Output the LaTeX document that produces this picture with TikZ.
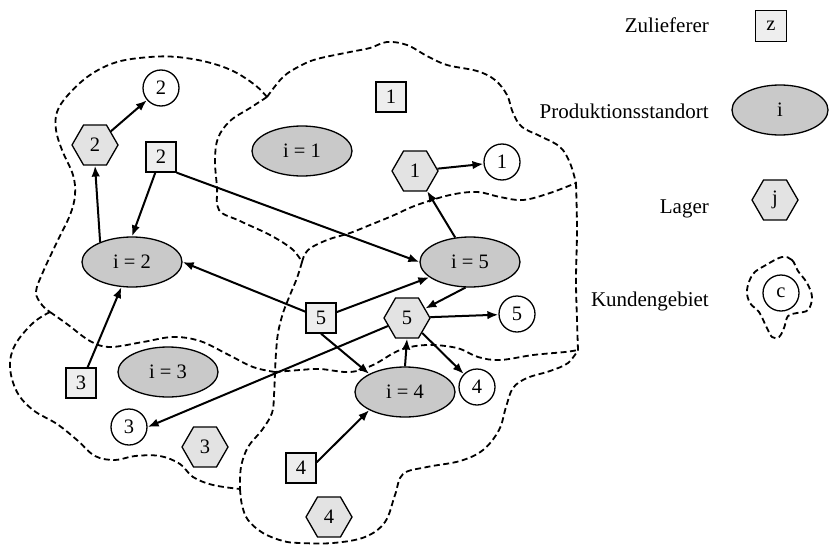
\documentclass[tikz,border=0pt]{standalone}
\usepackage{fontspec}
\setmainfont{Liberation Serif}
\usetikzlibrary{shapes.geometric,arrows.meta}
\begin{document}
\begin{tikzpicture}[x=1pt,y=-1pt,
  font=\fontsize{20.5}{24}\selectfont,
  sup/.style={draw, line width=1.3pt, fill=gray!13, minimum size=30pt, inner sep=0pt},
  plant/.style={ellipse, draw, line width=1.3pt, fill=gray!42, minimum width=100pt, minimum height=50pt, inner sep=0pt},
  store/.style={regular polygon, regular polygon sides=6, draw, line width=1.3pt, fill=gray!22, minimum size=46pt, inner sep=0pt},
  cust/.style={circle, draw, line width=1.3pt, fill=white, minimum size=36pt, inner sep=0pt},
  area/.style={line width=1.8pt, dash pattern=on 6pt off 3.5pt},
  flow/.style={line width=2pt, -{Latex[length=11pt,width=8.5pt]}},
  legendtext/.style={anchor=base east, font=\fontsize{21}{24}\selectfont, inner sep=0pt}
]
\useasboundingbox (0,0) rectangle (829,546);

% customer areas (dashed boundaries)
\draw[area] plot[smooth, tension=0.6] coordinates {(267,97) (255,85) (233,71) (207,62) (177,57) (150,57) (117,62) (90,75) (68,95) (57,112) (56,130) (62,150) (73,175) (75,195) (70,215) (57,242) (43,272) (36,292) (42,305) (50,312)};
\draw[area] plot[smooth, tension=0.6] coordinates {(267,97) (250,108) (230,121) (218,138) (215,160) (217,187) (219,210) (240,221) (270,235) (292,249) (302,262)};
\draw[area] plot[smooth, tension=0.6] coordinates {(267,97) (283,77) (300,66) (317,59) (350,52) (370,48) (387,42) (407,45) (427,56) (447,65) (477,71) (495,80) (507,95) (513,113) (522,127) (540,136) (560,147) (570,163) (576,183)};
\draw[area] plot[smooth, tension=0.6] coordinates {(302,262) (308,250) (327,240) (350,233) (370,225) (392,216) (417,205) (450,195) (477,192) (500,197) (523,200) (550,193) (576,183)};
\draw[area] plot[smooth, tension=0.6] coordinates {(302,262) (297,278) (290,295) (283,313) (278,333) (276,353) (275,372)};
\draw[area] plot[smooth, tension=0.6] coordinates {(50,312) (67,324) (90,341) (110,347) (143,342) (173,337) (200,341) (227,354) (253,367) (275,372)};
\draw[area] plot[smooth, tension=0.6] coordinates {(275,372) (300,370) (320,369) (350,372) (373,365) (400,350) (427,345) (457,348) (478,357) (500,360) (533,355) (565,352) (578,350)};
\draw[area] plot[smooth, tension=0.6] coordinates {(576,183) (577,230) (576,280) (577,320) (578,350)};
\draw[area] plot[smooth, tension=0.6] coordinates {(50,312) (33,323) (15,345) (10,367) (17,392) (33,410) (57,424) (77,440) (95,456) (115,460) (135,456) (160,456) (180,464) (193,477) (213,485) (240,489)};
\draw[area] plot[smooth, tension=0.6] coordinates {(275,372) (274,395) (272,413) (262,430) (248,447) (241,467) (240,489)};
\draw[area] plot[smooth, tension=0.6] coordinates {(240,489) (242,505) (248,520) (263,533) (283,541) (300,543) (333,543) (365,537) (385,522) (395,495) (403,474) (427,467) (460,461) (483,450) (499,430) (506,407) (513,388) (527,378) (550,371) (568,363) (578,350)};

% nodes
\node[cust]  (c2)   at (161,88)  {2};
\node[store] (hex2) at (95,145)  {2};
\node[sup]   (sq2)  at (161,157) {2};
\node[sup]   (sq1)  at (391,97)  {1};
\node[plant] (i1)   at (302,151) {i = 1};
\node[plant] (i2)   at (132,262) {i = 2};
\node[store] (hex1) at (415,171) {1};
\node[cust]  (c1)   at (502,162) {1};
\node[plant] (i5)   at (470,262) {i = 5};
\node[store] (hex5) at (407,318) {5};
\node[cust]  (c5)   at (517,314) {5};
\node[sup]   (sq5)  at (321,318) {5};
\node[cust]  (c4)   at (477,387) {4};
\node[plant] (i4)   at (405,392) {i = 4};
\node[sup]   (sq4)  at (301,468) {4};
\node[store] (hex4) at (329,517) {4};
\node[store] (hex3) at (205,447) {3};
\node[cust]  (c3)   at (129,427) {3};
\node[sup]   (sq3)  at (81,383)  {3};
\node[plant] (i3)   at (168,372) {i = 3};

% flows
\draw[flow] (hex2) -- (c2);
\draw[flow] (i2.148) -- (hex2.south);
\draw[flow] (sq2) -- (i2.north);
\draw[flow] (sq2.south east) -- (i5.west);
\draw[flow] (sq5) -- (i2.east);
\draw[flow] (sq5) -- (i5);
\draw[flow] (sq5.south) -- (i4.north west);
\draw[flow] (i5) -- (hex1);
\draw[flow] (hex1) -- (c1);
\draw[flow] (i5.-100) -- (hex5);
\draw[flow] (hex5) -- (c5);
\draw[flow] (hex5) -- (c4);
\draw[flow] (i4.north) -- (hex5.south);
\draw[flow] (hex5) -- (c3.east);
\draw[flow] (sq3) -- (i2);
\draw[flow] (sq4.20) -- (i4.south west);

% legend
\node[legendtext] (l1) at (709,32)  {Zulieferer};
\node[legendtext] (l2) at (709,118) {Produktionsstandort};
\node[legendtext] (l3) at (709,213) {Lager};
\node[legendtext] (l4) at (709,306) {Kundengebiet};
\node[sup, minimum size=31pt] (lz) at (771,26) {z};
\node[plant, minimum width=96pt] (li) at (780,110) {i};
\node[store] (lj) at (775,200) {j};
\draw[area] plot[smooth cycle, tension=0.6] coordinates {(782,257) (792,260) (798,271) (807,283) (812,297) (808,310) (797,313) (788,316) (784,328) (779,337) (772,337) (766,326) (759,312) (750,303) (747,290) (753,274) (766,265)};
\node[cust] (lc) at (781,293) {c};
\end{tikzpicture}
\end{document}
